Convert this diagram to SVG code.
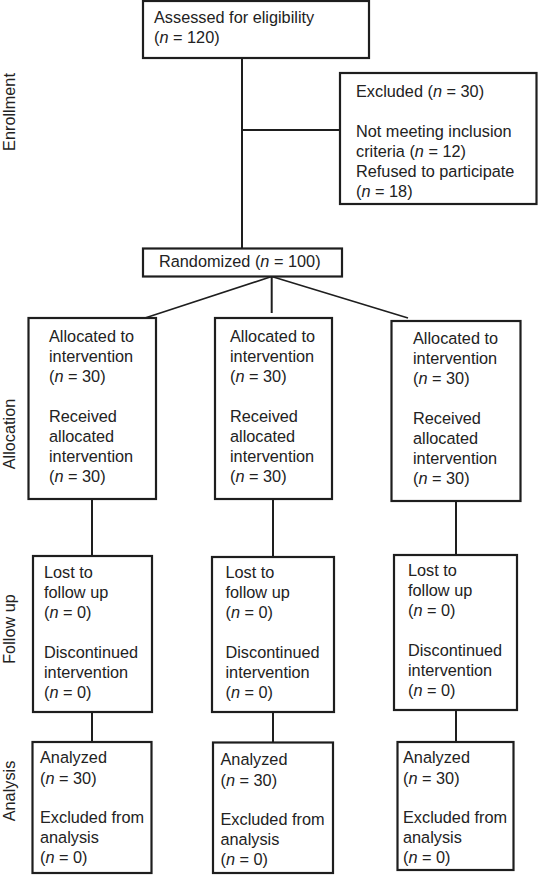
<svg xmlns="http://www.w3.org/2000/svg" width="538" height="875" viewBox="0 0 538 875">
<style>
.box{fill:#fff;stroke:#1e1e1e;stroke-width:2.2}
.ln{fill:none;stroke:#1e1e1e;stroke-width:2}
.dg{fill:none;stroke:#1e1e1e;stroke-width:1.6}
text{font-family:"Liberation Sans",Arial,sans-serif;font-size:16.3px;fill:#222}
.i{font-style:italic}
.lbl{text-anchor:middle}
</style>
<rect width="538" height="875" fill="#fff"/>
<g id="connectors">
<line class="ln" x1="242" y1="58" x2="242" y2="248.5"/>
<line class="ln" x1="242" y1="130" x2="340" y2="130"/>
<line class="dg" x1="271.7" y1="276.5" x2="145" y2="318"/>
<line class="ln" x1="271.7" y1="276.5" x2="271.7" y2="313"/>
<line class="dg" x1="271.7" y1="276.5" x2="408" y2="318"/>
<line class="ln" x1="92" y1="499" x2="92" y2="556"/>
<line class="ln" x1="273" y1="499" x2="273" y2="557"/>
<line class="ln" x1="456" y1="501" x2="456" y2="555"/>
<line class="ln" x1="92" y1="712" x2="92" y2="742"/>
<line class="ln" x1="273" y1="712" x2="273" y2="742.5"/>
<line class="ln" x1="456" y1="710" x2="456" y2="742"/>
</g>
<g id="labels">
<text class="lbl" transform="translate(15,112) rotate(-90)">Enrollment</text>
<text class="lbl" transform="translate(15,434) rotate(-90)">Allocation</text>
<text class="lbl" transform="translate(15,629) rotate(-90)">Follow up</text>
<text class="lbl" transform="translate(15,791) rotate(-90)">Analysis</text>
</g>
<g id="assessed">
<rect class="box" x="143" y="1" width="226" height="57"/>
<text x="154" y="23">Assessed for eligibility</text>
<text x="154" y="43">(<tspan class="i">n</tspan> = 120)</text>
</g>
<g id="excluded">
<rect class="box" x="340" y="73" width="196.5" height="131"/>
<text x="356" y="97">Excluded (<tspan class="i">n</tspan> = 30)</text>
<text x="356" y="137">Not meeting inclusion</text>
<text x="356" y="157">criteria (<tspan class="i">n</tspan> = 12)</text>
<text x="356" y="177">Refused to participate</text>
<text x="356" y="197">(<tspan class="i">n</tspan> = 18)</text>
</g>
<g id="randomized">
<rect class="box" x="143" y="248.5" width="199" height="28"/>
<text x="159" y="267">Randomized (<tspan class="i">n</tspan> = 100)</text>
</g>
<g id="alloc1">
<rect class="box" x="28.5" y="318" width="127.5" height="181"/>
<text x="49" y="342">Allocated to</text>
<text x="49" y="362">intervention</text>
<text x="49" y="382">(<tspan class="i">n</tspan> = 30)</text>
<text x="49" y="422">Received</text>
<text x="49" y="442">allocated</text>
<text x="49" y="462">intervention</text>
<text x="49" y="482">(<tspan class="i">n</tspan> = 30)</text>
</g>
<g id="alloc2">
<rect class="box" x="215" y="318" width="117" height="181"/>
<text x="230" y="342">Allocated to</text>
<text x="230" y="362">intervention</text>
<text x="230" y="382">(<tspan class="i">n</tspan> = 30)</text>
<text x="230" y="422">Received</text>
<text x="230" y="442">allocated</text>
<text x="230" y="462">intervention</text>
<text x="230" y="482">(<tspan class="i">n</tspan> = 30)</text>
</g>
<g id="alloc3">
<rect class="box" x="391.5" y="321" width="129" height="180"/>
<text x="413" y="344">Allocated to</text>
<text x="413" y="364">intervention</text>
<text x="413" y="384">(<tspan class="i">n</tspan> = 30)</text>
<text x="413" y="424">Received</text>
<text x="413" y="444">allocated</text>
<text x="413" y="464">intervention</text>
<text x="413" y="484">(<tspan class="i">n</tspan> = 30)</text>
</g>
<g id="follow1">
<rect class="box" x="33" y="556" width="119" height="156"/>
<text x="44" y="578">Lost to</text>
<text x="44" y="598">follow up</text>
<text x="44" y="618">(<tspan class="i">n</tspan> = 0)</text>
<text x="44" y="658">Discontinued</text>
<text x="44" y="678">intervention</text>
<text x="44" y="698">(<tspan class="i">n</tspan> = 0)</text>
</g>
<g id="follow2">
<rect class="box" x="212" y="557" width="122" height="155"/>
<text x="225.5" y="578">Lost to</text>
<text x="225.5" y="598">follow up</text>
<text x="225.5" y="618">(<tspan class="i">n</tspan> = 0)</text>
<text x="225.5" y="658">Discontinued</text>
<text x="225.5" y="678">intervention</text>
<text x="225.5" y="698">(<tspan class="i">n</tspan> = 0)</text>
</g>
<g id="follow3">
<rect class="box" x="394" y="555" width="123" height="155"/>
<text x="408" y="576">Lost to</text>
<text x="408" y="596">follow up</text>
<text x="408" y="616">(<tspan class="i">n</tspan> = 0)</text>
<text x="408" y="656">Discontinued</text>
<text x="408" y="676">intervention</text>
<text x="408" y="696">(<tspan class="i">n</tspan> = 0)</text>
</g>
<g id="analysis1">
<rect class="box" x="32.5" y="742" width="119" height="131"/>
<text x="40" y="763">Analyzed</text>
<text x="40" y="784">(<tspan class="i">n</tspan> = 30)</text>
<text x="40" y="823">Excluded from</text>
<text x="40" y="843">analysis</text>
<text x="40" y="863">(<tspan class="i">n</tspan> = 0)</text>
</g>
<g id="analysis2">
<rect class="box" x="213" y="742.5" width="120" height="130.5"/>
<text x="220.5" y="765">Analyzed</text>
<text x="220.5" y="786">(<tspan class="i">n</tspan> = 30)</text>
<text x="220.5" y="825">Excluded from</text>
<text x="220.5" y="845">analysis</text>
<text x="220.5" y="865">(<tspan class="i">n</tspan> = 0)</text>
</g>
<g id="analysis3">
<rect class="box" x="397.5" y="742" width="116" height="128"/>
<text x="403" y="763">Analyzed</text>
<text x="403" y="784">(<tspan class="i">n</tspan> = 30)</text>
<text x="403" y="823">Excluded from</text>
<text x="403" y="843">analysis</text>
<text x="403" y="863">(<tspan class="i">n</tspan> = 0)</text>
</g>
</svg>
